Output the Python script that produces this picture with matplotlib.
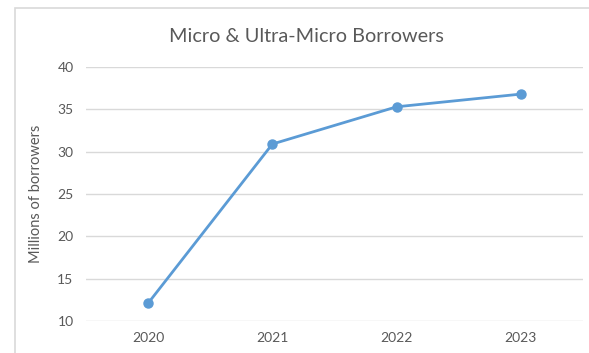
import matplotlib
matplotlib.use("Agg")
import matplotlib.pyplot as plt
from matplotlib.patches import Rectangle

years = ["2020", "2021", "2022", "2023"]
borrowers = [12.1, 30.9, 35.3, 36.8]   # millions
y_ticks = [10, 15, 20, 25, 30, 35, 40]

plt.rcParams['font.family'] = ['Lato', 'DejaVu Sans']
text_col = '#595959'

fig = plt.figure(figsize=(5.89, 3.53), dpi=100)
ax = fig.add_axes([86/589, 1 - 321/353, (583 - 86)/589, (321 - 67)/353])

x = list(range(len(years)))
ax.plot(x, borrowers, color='#5B9BD5', linewidth=2, marker='o', markersize=6.5, zorder=3)

ax.set_xlim(-0.5, len(years) - 0.5)
ax.set_ylim(10, 40)
ax.set_yticks(y_ticks)
ax.set_xticks(x)
ax.set_xticklabels(years)
ax.grid(axis='y', color='#D9D9D9', linewidth=1)
ax.set_axisbelow(True)
for s in ax.spines.values():
    s.set_visible(False)
ax.tick_params(length=0, colors=text_col, labelsize=10)
ax.tick_params(axis='y', pad=9)
ax.tick_params(axis='x', pad=8)
ax.set_ylabel('Millions of borrowers', color=text_col, fontsize=10.5, labelpad=10)

fig.text(306/589, 1 - 36/353, 'Micro & Ultra-Micro Borrowers', ha='center', va='center',
         fontsize=14.3, color=text_col)

# outer chart frame
fig.patches.append(Rectangle((15/589, -0.1), 1.2, 1.1 - 8/353, transform=fig.transFigure,
                             fill=False, edgecolor='#D9D9D9', linewidth=1.2))

fig.savefig('out.png', dpi=100)
